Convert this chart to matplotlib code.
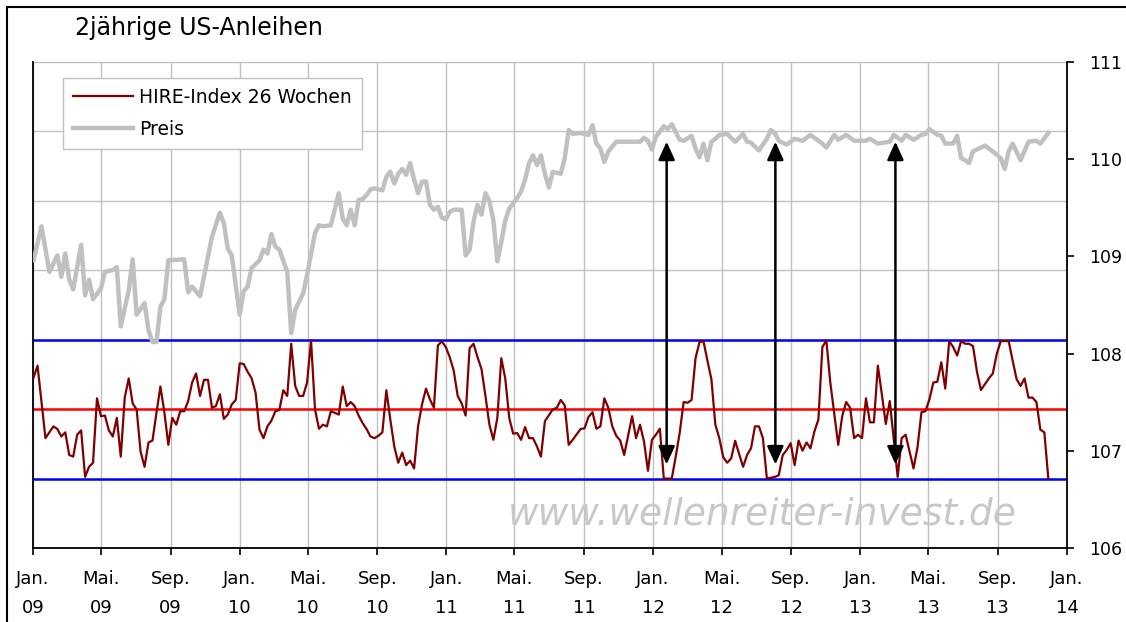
import numpy as np
import pandas as pd
import matplotlib
matplotlib.use("Agg")
import matplotlib.pyplot as plt
import matplotlib.dates as mdates
from matplotlib.lines import Line2D
from matplotlib.patches import Rectangle
from matplotlib.ticker import FuncFormatter

# weeks since 2009-01-02 (weekly data)
start = pd.Timestamp("2009-01-02")

price_wk = [0, 2, 4, 6, 7, 8, 9, 10, 12, 13, 14, 15, 17, 18, 20, 21, 22, 24, 25, 26,
            28, 29, 30, 31, 32, 33, 34, 38, 39, 40, 42, 45, 47, 48, 49, 50, 52, 53, 54, 55,
            57, 58, 59, 60, 61, 62, 64, 65, 66, 68, 69, 71, 72, 73, 75, 77, 78, 79, 80, 81,
            82, 83, 84, 85, 86, 88, 89, 90, 91, 92, 93, 94, 95, 96, 97, 98, 99, 100, 101, 102,
            103, 104, 105, 106, 108, 109, 110, 111, 112, 113, 114, 115, 116, 117, 118, 119, 120, 122, 123, 124,
            125, 126, 127, 128, 129, 130, 131, 133, 134, 135, 136, 138, 140, 141, 142, 143, 144, 145, 147, 153,
            154, 155, 156, 157, 159, 160, 161, 162, 163, 164, 166, 167, 168, 169, 170, 171, 172, 173, 175, 177,
            179, 180, 181, 183, 185, 186, 187, 188, 190, 192, 194, 196, 198, 199, 200, 202, 203, 205, 207, 210,
            211, 213, 216, 217, 219, 220, 222, 224, 225, 226, 228, 229, 230, 232, 233, 234, 235, 236, 237, 240,
            242, 244, 245, 246, 247, 249, 251, 253, 254, 256]
price = [108.96, 109.31, 108.84, 109.01, 108.79, 109.03, 108.76, 108.66, 109.12, 108.60, 108.76, 108.56, 108.67, 108.84, 108.86, 108.89, 108.28, 108.65, 108.97, 108.40,
         108.52, 108.24, 108.12, 108.12, 108.48, 108.56, 108.96, 108.97, 108.63, 108.69, 108.59, 109.20, 109.45, 109.34, 109.08, 109.01, 108.40, 108.64, 108.69, 108.88,
         108.96, 109.07, 109.03, 109.23, 109.10, 109.07, 108.84, 108.21, 108.45, 108.62, 108.81, 109.24, 109.32, 109.31, 109.32, 109.65, 109.39, 109.32, 109.48, 109.32,
         109.58, 109.59, 109.63, 109.69, 109.70, 109.68, 109.82, 109.87, 109.75, 109.85, 109.90, 109.84, 109.96, 109.79, 109.65, 109.77, 109.77, 109.53, 109.48, 109.51,
         109.40, 109.38, 109.46, 109.48, 109.48, 109.01, 109.07, 109.36, 109.53, 109.43, 109.65, 109.57, 109.37, 108.95, 109.15, 109.37, 109.49, 109.60, 109.67, 109.79,
         109.96, 110.04, 109.94, 110.04, 109.85, 109.71, 109.87, 109.85, 110.01, 110.30, 110.26, 110.27, 110.25, 110.35, 110.16, 110.11, 109.97, 110.08, 110.18, 110.18,
         110.22, 110.19, 110.10, 110.23, 110.34, 110.31, 110.36, 110.28, 110.20, 110.19, 110.24, 110.11, 110.02, 110.16, 109.99, 110.18, 110.21, 110.25, 110.26, 110.18,
         110.26, 110.18, 110.17, 110.09, 110.21, 110.30, 110.27, 110.19, 110.15, 110.21, 110.19, 110.25, 110.19, 110.16, 110.12, 110.25, 110.20, 110.25, 110.19, 110.19,
         110.21, 110.16, 110.18, 110.25, 110.19, 110.25, 110.20, 110.25, 110.26, 110.31, 110.25, 110.24, 110.16, 110.16, 110.24, 110.01, 109.99, 109.96, 110.08, 110.14,
         110.08, 110.01, 109.90, 110.08, 110.16, 109.99, 110.18, 110.19, 110.16, 110.27]

hire_wk = [0, 1, 3, 5, 6, 7, 8, 9, 10, 11, 12, 13, 14, 15, 16, 17, 18, 19, 20, 21,
           22, 23, 24, 25, 26, 27, 28, 29, 30, 31, 32, 33, 34, 35, 36, 37, 38, 39, 40, 41,
           42, 43, 44, 45, 46, 47, 48, 49, 50, 51, 52, 53, 54, 55, 56, 57, 58, 59, 60, 61,
           62, 63, 64, 65, 66, 67, 68, 69, 70, 71, 72, 73, 74, 75, 76, 77, 78, 79, 80, 81,
           82, 83, 84, 85, 86, 87, 88, 89, 90, 91, 92, 93, 94, 95, 96, 97, 98, 99, 100, 101,
           102, 103, 104, 105, 106, 107, 108, 109, 110, 111, 112, 113, 114, 115, 116, 117, 118, 119, 120, 121,
           122, 123, 124, 125, 126, 127, 128, 129, 130, 131, 132, 133, 134, 135, 136, 138, 139, 140, 141, 142,
           143, 144, 145, 146, 147, 148, 149, 150, 151, 152, 153, 154, 155, 156, 157, 158, 159, 161, 162, 163,
           164, 165, 166, 167, 168, 169, 170, 171, 172, 173, 174, 175, 176, 177, 178, 179, 180, 181, 182, 183,
           184, 185, 187, 188, 189, 190, 191, 192, 193, 194, 195, 196, 197, 198, 199, 200, 201, 203, 204, 205,
           206, 207, 208, 209, 210, 211, 212, 213, 214, 215, 216, 218, 219, 220, 221, 222, 223, 224, 225, 226,
           227, 228, 229, 230, 231, 232, 233, 234, 235, 236, 237, 238, 239, 240, 241, 242, 243, 244, 246, 247,
           248, 249, 250, 251, 252, 253, 254, 255, 256]
hire = [72.8, 81.3, 29.1, 37.6, 35.7, 30.3, 33.3, 17.0, 15.8, 31.6, 34.7, 1.2, 8.5, 11.4, 57.8, 44.9, 45.4, 34.7, 30.3, 43.7,
        15.8, 58.3, 72.1, 54.1, 49.8, 19.4, 8.5, 26.0, 27.4, 47.3, 66.3, 47.8, 24.3, 43.7, 38.8, 48.5, 48.5, 55.8, 69.2, 75.7,
        59.5, 71.1, 71.1, 51.0, 52.2, 60.7, 43.0, 46.1, 53.4, 56.6, 83.0, 82.5, 76.9, 72.3, 61.9, 35.2, 29.1, 37.6, 41.7, 48.5,
        49.3, 63.6, 59.5, 97.1, 66.7, 59.5, 59.5, 69.2, 99.5, 49.8, 35.9, 38.8, 37.6, 48.5, 47.3, 46.1, 66.3, 52.2, 55.1, 52.2,
        45.4, 40.0, 35.7, 30.3, 29.1, 30.8, 33.3, 63.6, 42.5, 23.1, 11.4, 18.7, 9.7, 12.9, 7.3, 37.6, 53.4, 64.8, 57.0, 51.0,
        95.9, 98.8, 94.7, 87.4, 77.7, 59.5, 54.1, 45.4, 93.9, 97.1, 87.4, 78.9, 59.5, 38.8, 27.9, 43.7, 86.7, 72.1, 43.7, 32.3,
        32.8, 27.9, 37.1, 29.1, 29.1, 23.1, 15.8, 41.3, 45.5, 49.8, 51.0, 56.6, 52.7, 24.3, 27.9, 35.7, 36.2, 44.4, 47.8, 35.9,
        37.6, 57.8, 51.0, 37.6, 30.8, 27.4, 17.0, 30.8, 44.9, 29.1, 38.8, 26.7, 5.6, 27.9, 31.6, 35.9, 0.0, 0.0, 15.8, 32.8,
        55.1, 54.6, 56.6, 86.7, 98.3, 99.0, 85.0, 71.6, 38.8, 29.1, 15.3, 11.4, 14.6, 27.2, 17.7, 8.5, 17.0, 21.8, 37.6, 37.6,
        29.1, 0.0, 1.2, 2.4, 17.0, 20.6, 25.5, 9.7, 27.4, 20.1, 26.0, 21.8, 34.0, 42.5, 94.7, 99.5, 69.2, 24.3, 44.9, 55.1,
        51.0, 29.1, 31.6, 29.1, 57.8, 40.5, 40.5, 81.3, 60.7, 39.3, 55.8, 1.2, 29.1, 31.6, 19.4, 7.3, 22.6, 47.8, 48.5, 57.0,
        69.2, 69.7, 83.7, 64.8, 99.0, 94.7, 88.6, 99.0, 97.1, 97.1, 95.4, 76.9, 63.8, 68.0, 72.1, 75.7, 89.8, 99.0, 99.0, 85.0,
        71.6, 66.7, 72.1, 58.3, 58.3, 55.1, 35.2, 33.3, 0.0]

band_levels = [0, 50, 100]
band_colors = ["#0000ff", "#ff0000", "#0000ff"]

arrow_dates = ["2012-01-25", "2012-08-04", "2013-03-04"]
arrow_low, arrow_high = 106.86, 110.18

month_names = {1: "Jan.", 5: "Mai.", 9: "Sep."}

price_dates = start + pd.to_timedelta(np.array(price_wk) * 7, unit="D")
hire_dates = start + pd.to_timedelta(np.array(hire_wk) * 7, unit="D")

plt.rcParams["font.family"] = ["DejaVu Sans"]

fig = plt.figure(figsize=(11.26, 6.22), dpi=100)
ax = fig.add_axes([33 / 1126, 1 - 548 / 622, (1067 - 33) / 1126, (548 - 62) / 622])
ax2 = ax.twinx()

# HIRE index on hidden left axis
ax.set_ylim(-50, 300)
ax.set_yticks(range(-50, 301, 50))
ax.grid(True, color="#c0c0c0", lw=1)
ax.set_axisbelow(True)
ax.tick_params(axis="y", left=False, labelleft=False)
for lvl, col in zip(band_levels, band_colors):
    ax.axhline(lvl, color=col, lw=1.8, zorder=2)
ax.plot(hire_dates, hire, color="#800000", lw=1.6, zorder=3)

ax.set_xlim(pd.Timestamp("2009-01-01"), pd.Timestamp("2014-01-01"))
ax.xaxis.set_major_locator(mdates.MonthLocator(bymonth=(1, 5, 9)))
ax.xaxis.set_major_formatter(FuncFormatter(
    lambda v, p: "%s\n%02d" % (month_names[mdates.num2date(v).month], mdates.num2date(v).year % 100)))
ax.tick_params(axis="x", direction="out", length=5, width=1.2, pad=11, labelsize=13)
for t in ax.get_xticklabels():
    t.set_linespacing(1.75)

for s in ["top", "right"]:
    ax.spines[s].set_visible(False)
ax.spines["left"].set_linewidth(1.3)
ax.spines["bottom"].set_linewidth(1.3)

# price on right axis
ax2.plot(price_dates, price, color="#c0c0c0", lw=3.2, zorder=2)
ax2.set_ylim(106, 111)
ax2.set_yticks(range(106, 112))
ax2.tick_params(axis="y", direction="out", length=5, width=1.2, pad=11, labelsize=12.5)
for s in ["top", "left", "bottom"]:
    ax2.spines[s].set_visible(False)
ax2.spines["right"].set_linewidth(1.3)

for d in arrow_dates:
    x = mdates.date2num(pd.Timestamp(d))
    ax2.annotate("", xy=(x, arrow_high), xytext=(x, arrow_low),
                 arrowprops=dict(arrowstyle="<|-|>,head_length=0.55,head_width=0.25",
                                 mutation_scale=20, color="black", lw=1.8,
                                 shrinkA=0, shrinkB=0), zorder=5)

ax2.text(0.705, 0.068, "www.wellenreiter-invest.de", transform=ax2.transAxes,
         ha="center", va="center", fontsize=27, style="italic", color="#c8c8c8", zorder=1)

handles = [Line2D([], [], color="#800000", lw=1.6),
           Line2D([], [], color="#c0c0c0", lw=3.2)]
leg = ax2.legend(handles, ["HIRE-Index 26 Wochen", "Preis"], loc="upper left",
                 bbox_to_anchor=(0.029, 0.968), borderaxespad=0, fontsize=13.5,
                 frameon=True, fancybox=False, edgecolor="#c0c0c0", framealpha=1,
                 handlelength=3.2, handletextpad=0.3, labelspacing=0.7, borderpad=0.55)
leg.get_frame().set_linewidth(1)

fig.text(75 / 1126, 1 - 28 / 622, "2jährige US-Anleihen", fontsize=17, va="center", ha="left")

fig.add_artist(Rectangle((7 / 1126, -0.1), 1.2, 1.1 - 7 / 622, transform=fig.transFigure,
                         fill=False, edgecolor="black", lw=1.5))

fig.savefig("out.png", dpi=100)
